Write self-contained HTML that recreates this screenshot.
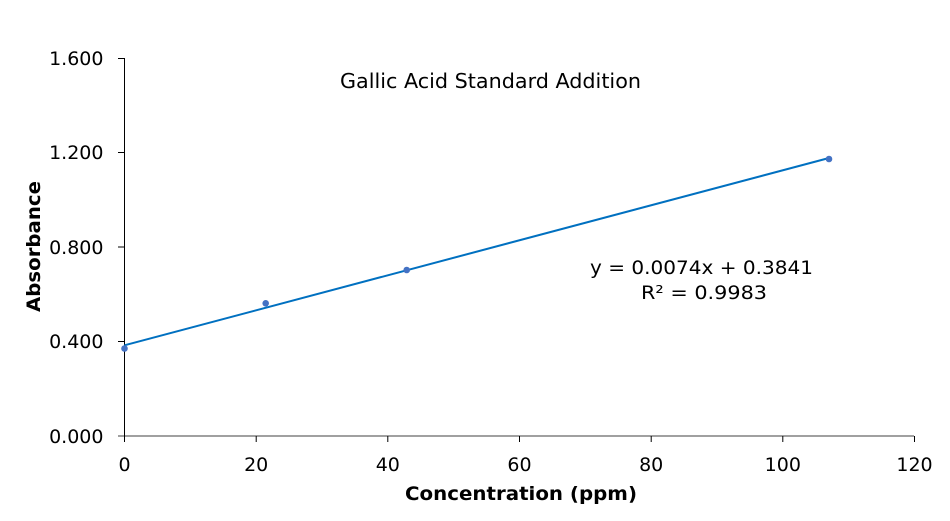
<!DOCTYPE html>
<html><head><meta charset="utf-8"><style>
html,body{margin:0;padding:0;background:#fff;}
svg{display:block;}
text{font-family:"DejaVu Sans","Liberation Sans",sans-serif;fill:#000;}
</style></head><body>
<svg width="950" height="521" viewBox="0 0 950 521" xmlns="http://www.w3.org/2000/svg">
<rect width="950" height="521" fill="#fff"/>
<!-- x axis -->
<line x1="118" y1="436" x2="914" y2="436" stroke="#808080" stroke-width="1.5"/>
<g stroke="#000" stroke-width="1">
<line x1="124.5" y1="436" x2="124.5" y2="442"/>
<line x1="256.2" y1="436" x2="256.2" y2="442"/>
<line x1="387.8" y1="436" x2="387.8" y2="442"/>
<line x1="519.5" y1="436" x2="519.5" y2="442"/>
<line x1="651.2" y1="436" x2="651.2" y2="442"/>
<line x1="782.8" y1="436" x2="782.8" y2="442"/>
<line x1="914.5" y1="436" x2="914.5" y2="442"/>
</g>
<!-- y axis -->
<line x1="124.5" y1="58" x2="124.5" y2="442" stroke="#000" stroke-width="1"/>
<g stroke="#000" stroke-width="1">
<line x1="118" y1="58.5" x2="124.5" y2="58.5"/>
<line x1="118" y1="152.5" x2="124.5" y2="152.5"/>
<line x1="118" y1="247" x2="124.5" y2="247"/>
<line x1="118" y1="341.5" x2="124.5" y2="341.5"/>
</g>
<!-- y tick labels -->
<g font-size="19" text-anchor="end">
<text x="103.5" y="65">1.600</text>
<text x="103.5" y="159">1.200</text>
<text x="103.5" y="254">0.800</text>
<text x="103.5" y="348">0.400</text>
<text x="103.5" y="443">0.000</text>
</g>
<!-- x tick labels -->
<g font-size="19" text-anchor="middle">
<text x="124.5" y="471">0</text>
<text x="256.2" y="471">20</text>
<text x="387.8" y="471">40</text>
<text x="519.5" y="471">60</text>
<text x="651.2" y="471">80</text>
<text x="782.8" y="471">100</text>
<text x="914.5" y="471">120</text>
</g>
<!-- trendline -->
<line x1="124.5" y1="345.3" x2="829" y2="158" stroke="#0070C0" stroke-width="2"/>
<!-- points -->
<g fill="#4472C4">
<circle cx="124.5" cy="348.5" r="3.3"/>
<circle cx="265.7" cy="303.3" r="3.3"/>
<circle cx="406.7" cy="270" r="3.3"/>
<circle cx="829" cy="159" r="3.3"/>
</g>
<!-- title -->
<text x="340" y="88" font-size="20" textLength="301" lengthAdjust="spacingAndGlyphs">Gallic Acid Standard Addition</text>
<!-- equation -->
<text x="590" y="274" font-size="18.5" textLength="223" lengthAdjust="spacingAndGlyphs">y = 0.0074x + 0.3841</text>
<text x="641" y="299" font-size="18.5" textLength="126" lengthAdjust="spacingAndGlyphs">R² = 0.9983</text>
<!-- axis titles -->
<text x="405" y="500" font-size="19" font-weight="bold" textLength="232" lengthAdjust="spacingAndGlyphs">Concentration (ppm)</text>
<text transform="translate(40,312) rotate(-90)" font-size="19" font-weight="bold" textLength="131" lengthAdjust="spacingAndGlyphs">Absorbance</text>
</svg>
</body></html>
